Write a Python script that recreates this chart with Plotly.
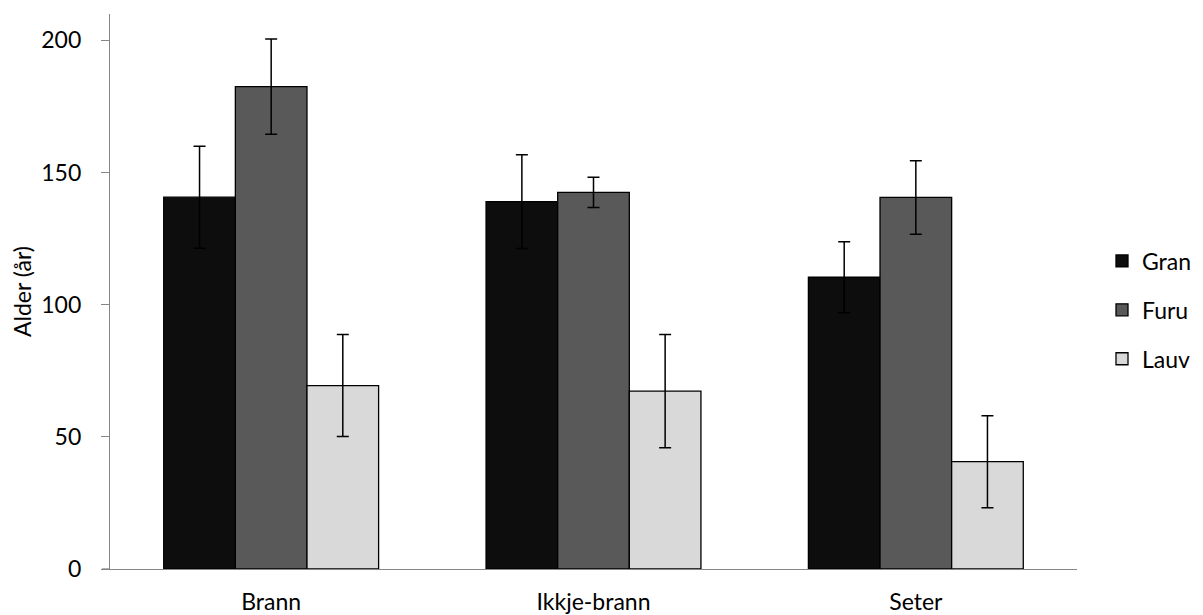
import plotly.graph_objects as go

categories = ["Brann", "Ikkje-brann", "Seter"]
series_names = ["Gran", "Furu", "Lauv"]
gran = [140.7, 139.0, 110.4]
gran_err = [19.3, 17.7, 13.4]
furu = [182.5, 142.5, 140.6]
furu_err = [18.0, 5.7, 13.9]
lauv = [69.4, 67.3, 40.6]
lauv_err = [19.3, 21.4, 17.4]
y_ticks = [0, 50, 100, 150, 200]

values = [gran, furu, lauv]
errors = [gran_err, furu_err, lauv_err]
colors = ["#0d0d0d", "#595959", "#d9d9d9"]

FONT = "Lato"
FS = 23
# page body has an 8px default margin; figure is sized/offset to compensate
W, H = 1195, 607
L, R, T, B = 102, 126, 6, 46
PW = W - L - R
PH = H - T - B

fig = go.Figure()
for name, v, e, c in zip(series_names, values, errors, colors):
    fig.add_trace(go.Bar(
        name=name, x=categories, y=v,
        marker=dict(color=c, line=dict(color="#000000", width=1.3)),
        error_y=dict(type="data", array=e, visible=True, color="#000000",
                     thickness=1.5, width=6),
        legendgroup=name,
    ))

fig.update_layout(
    width=W, height=H,
    margin=dict(l=L, r=R, t=T, b=B, autoexpand=False),
    paper_bgcolor="white", plot_bgcolor="white",
    barmode="group", bargap=1.5 / 4.5, bargroupgap=0,
    font=dict(family=FONT, size=FS, color="#000000"),
    showlegend=True,
    legend=dict(
        x=(1094 - L) / PW, xanchor="left",
        y=(561 - 302) / PH, yanchor="middle",
        font=dict(family=FONT, size=FS, color="#000000"),
        tracegroupgap=16, bgcolor="rgba(0,0,0,0)",
        traceorder="grouped",
    ),
    xaxis=dict(
        showline=True, linecolor="#868686", linewidth=1.3,
        ticks="", showgrid=False, zeroline=False,
        ticklabelstandoff=12,
        tickfont=dict(family=FONT, size=FS, color="#000000"),
    ),
    yaxis=dict(
        range=[0, 210], tickvals=y_ticks,
        showline=True, linecolor="#868686", linewidth=1.3,
        ticks="outside", ticklen=8, tickcolor="#868686", tickwidth=1.3,
        showgrid=False, zeroline=False,
        ticklabelstandoff=15,
        tickfont=dict(family=FONT, size=FS, color="#000000"),
        title=dict(text="Alder (år)", standoff=10,
                   font=dict(family=FONT, size=FS, color="#000000")),
    ),
    shapes=[dict(type="line", xref="paper", yref="y",
                 x0=-8 / PW, x1=0, y0=0, y1=0,
                 line=dict(color="#868686", width=1.3))],
)

fig.write_html("out.html")
